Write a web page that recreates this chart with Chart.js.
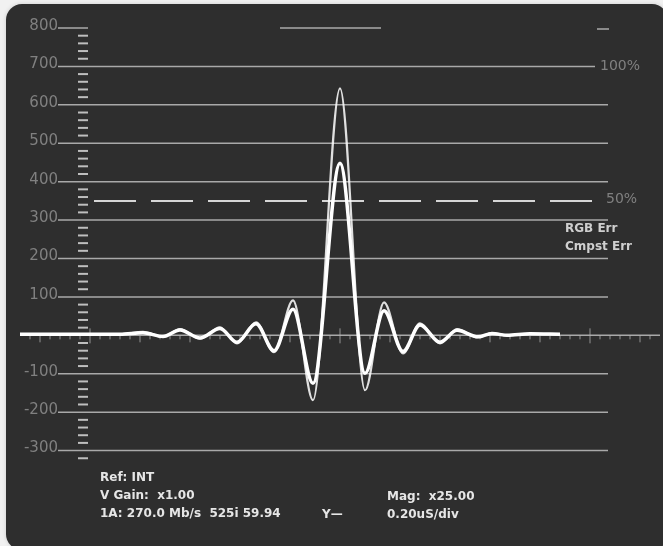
<!DOCTYPE html>
<html>
<head>
<meta charset="utf-8">
<script src="https://cdn.jsdelivr.net/npm/chart.js@4.4.1/dist/chart.umd.min.js"></script>
<style>
    html, body { margin: 0; padding: 0; background: #f1f1f1; }
    .panel {
        position: absolute; left: 6px; top: 4px; width: 662px; height: 546px;
        background: #2e2e2e; border-radius: 16px;
        box-shadow: 0 0 4px rgba(0,0,0,0.15);
    }
    .wrap { position: absolute; left: 0; top: 0; width: 663px; height: 546px; }
</style>
</head>
<body>
<div class="panel"></div>
<div class="wrap"><canvas id="scope"></canvas></div>
<script>
// Graticule
const yTickValues = [800, 700, 600, 500, 400, 300, 200, 100, -100, -200, -300];
const refLevel = 350;      // 50% dashed line
const fullLevel = 700;     // 100% line

// Time positions (x, in small baseline ticks from centre) and the two traces
const times      = [-32, -22, -19.7, -17.7, -16.0, -14.0, -12.0, -10.3, -8.4, -6.6, -4.7, -2.7, 0, 2.5, 4.4, 6.3, 8.0, 10.0, 11.7, 13.8, 15.2, 16.7, 19.0, 22];
const outerTrace = [3, 3, 9, -4, 16, -8, 21, -21, 34, -44, 91, -169, 643, -143, 86, -47, 31, -21, 16, -5, 6, 0, 4, 3];
const innerTrace = [3, 3, 7, -3, 14, -7, 18, -18, 30, -40, 68, -125, 448, -99, 64, -42, 27, -18, 13, -4, 5, 0, 4, 3];

const infoLeft = ['Ref: INT', 'V Gain:  x1.00', '1A: 270.0 Mb/s  525i 59.94'];
const infoRight = ['Mag:  x25.00', '0.20uS/div'];

const gridColor = 'rgba(200,200,200,0.8)';
const labelColor = '#808080';

const graticule = {
    id: 'graticule',
    beforeDatasetsDraw(chart) {
        const ctx = chart.ctx;
        const xs = chart.scales.x, ys = chart.scales.y;
        ctx.save();
        ctx.strokeStyle = gridColor;
        ctx.lineWidth = 1.5;

        // major lines + labels
        ctx.font = '15px "DejaVu Sans"';
        ctx.fillStyle = labelColor;
        ctx.textAlign = 'right';
        ctx.textBaseline = 'middle';
        yTickValues.forEach(v => {
            const y = ys.getPixelForValue(v);
            let x2 = 608;
            if (v === 800) x2 = 88;
            if (v === fullLevel) x2 = 595;
            ctx.beginPath();
            ctx.moveTo(58, y);
            ctx.lineTo(x2, y);
            ctx.stroke();
            ctx.fillText(String(v), 58, y - 2);
        });

        // short lines at top
        const yTop = ys.getPixelForValue(800);
        ctx.beginPath();
        ctx.moveTo(280, yTop); ctx.lineTo(381, yTop);
        ctx.moveTo(597, yTop + 1); ctx.lineTo(609, yTop + 1);
        ctx.stroke();

        // minor ticks on the vertical scale
        ctx.strokeStyle = 'rgba(215,215,215,0.85)';
        ctx.lineWidth = 2;
        for (let v = -320; v <= 780; v += 20) {
            if (v % 100 === 0) continue;
            const y = ys.getPixelForValue(v);
            ctx.beginPath();
            ctx.moveTo(78, y); ctx.lineTo(88, y);
            ctx.stroke();
        }

        // 50% dashed line
        const yRef = ys.getPixelForValue(refLevel);
        ctx.strokeStyle = '#d6d6d6';
        ctx.lineWidth = 2;
        ctx.setLineDash([42, 15]);
        ctx.beginPath();
        ctx.moveTo(94, yRef); ctx.lineTo(592, yRef);
        ctx.stroke();
        ctx.setLineDash([]);

        // baseline and its ticks
        const y0 = ys.getPixelForValue(0);
        ctx.strokeStyle = gridColor;
        ctx.lineWidth = 1.5;
        ctx.beginPath();
        ctx.moveTo(xs.getPixelForValue(-32), y0);
        ctx.lineTo(xs.getPixelForValue(32), y0);
        ctx.stroke();
        ctx.strokeStyle = 'rgba(180,180,180,0.75)';
        ctx.lineWidth = 1;
        for (let t = -31; t <= 31; t++) {
            const x = xs.getPixelForValue(t);
            let up = 0, down = 4;
            if (t % 5 === 0) down = 7;
            if (t === 0 || t === -25 || t === 25) { up = 7; down = 8; }
            ctx.beginPath();
            ctx.moveTo(x, y0 - up); ctx.lineTo(x, y0 + down);
            ctx.stroke();
        }

        // percent labels
        ctx.font = '14px "DejaVu Sans"';
        ctx.textAlign = 'left';
        ctx.fillText('100%', 600, ys.getPixelForValue(fullLevel));
        ctx.fillText('50%', 606, yRef - 2);

        ctx.font = 'bold 12px "DejaVu Sans"';
        ctx.fillStyle = '#cfcfcf';
        ctx.fillText('RGB Err', 565, 229);
        ctx.fillText('Cmpst Err', 565, 247);
        ctx.restore();
    },
    afterDraw(chart) {
        const ctx = chart.ctx;
        ctx.save();
        ctx.font = 'bold 12px "DejaVu Sans"';
        ctx.fillStyle = '#e6e6e6';
        ctx.textAlign = 'left';
        ctx.textBaseline = 'middle';
        ctx.fillText(infoLeft[0], 100, 478);
        ctx.fillText(infoLeft[1], 100, 496);
        ctx.fillText(infoLeft[2], 100, 514);
        ctx.fillText('Y\u2014', 322, 515);
        ctx.fillText(infoRight[0], 387, 497);
        ctx.fillText(infoRight[1], 387, 515);
        ctx.restore();
    }
};

const outerData = times.map((t, i) => ({ x: t, y: outerTrace[i] }));
const innerData = times.map((t, i) => ({ x: t, y: innerTrace[i] }));

new Chart(document.getElementById('scope').getContext('2d'), {
    type: 'line',
    data: {
        datasets: [{
            label: 'Outer',
            data: outerData,
            borderColor: 'rgba(255,255,255,0.85)',
            borderWidth: 2.2,
            pointRadius: 0,
            cubicInterpolationMode: 'monotone',
            clip: false
        }, {
            label: 'Inner',
            data: innerData,
            borderColor: '#ffffff',
            borderWidth: 3.5,
            pointRadius: 0,
            cubicInterpolationMode: 'monotone',
            clip: false
        }]
    },
    options: {
        responsive: true,
        maintainAspectRatio: false,
        animation: false,
        layout: { padding: { top: 28, bottom: 57, left: 20, right: 3 } },
        scales: {
            x: { type: 'linear', min: -32, max: 32, display: false },
            y: { min: -400, max: 800, display: false }
        },
        plugins: {
            legend: { display: false },
            tooltip: { enabled: false }
        }
    },
    plugins: [graticule]
});
</script>
</body>
</html>
